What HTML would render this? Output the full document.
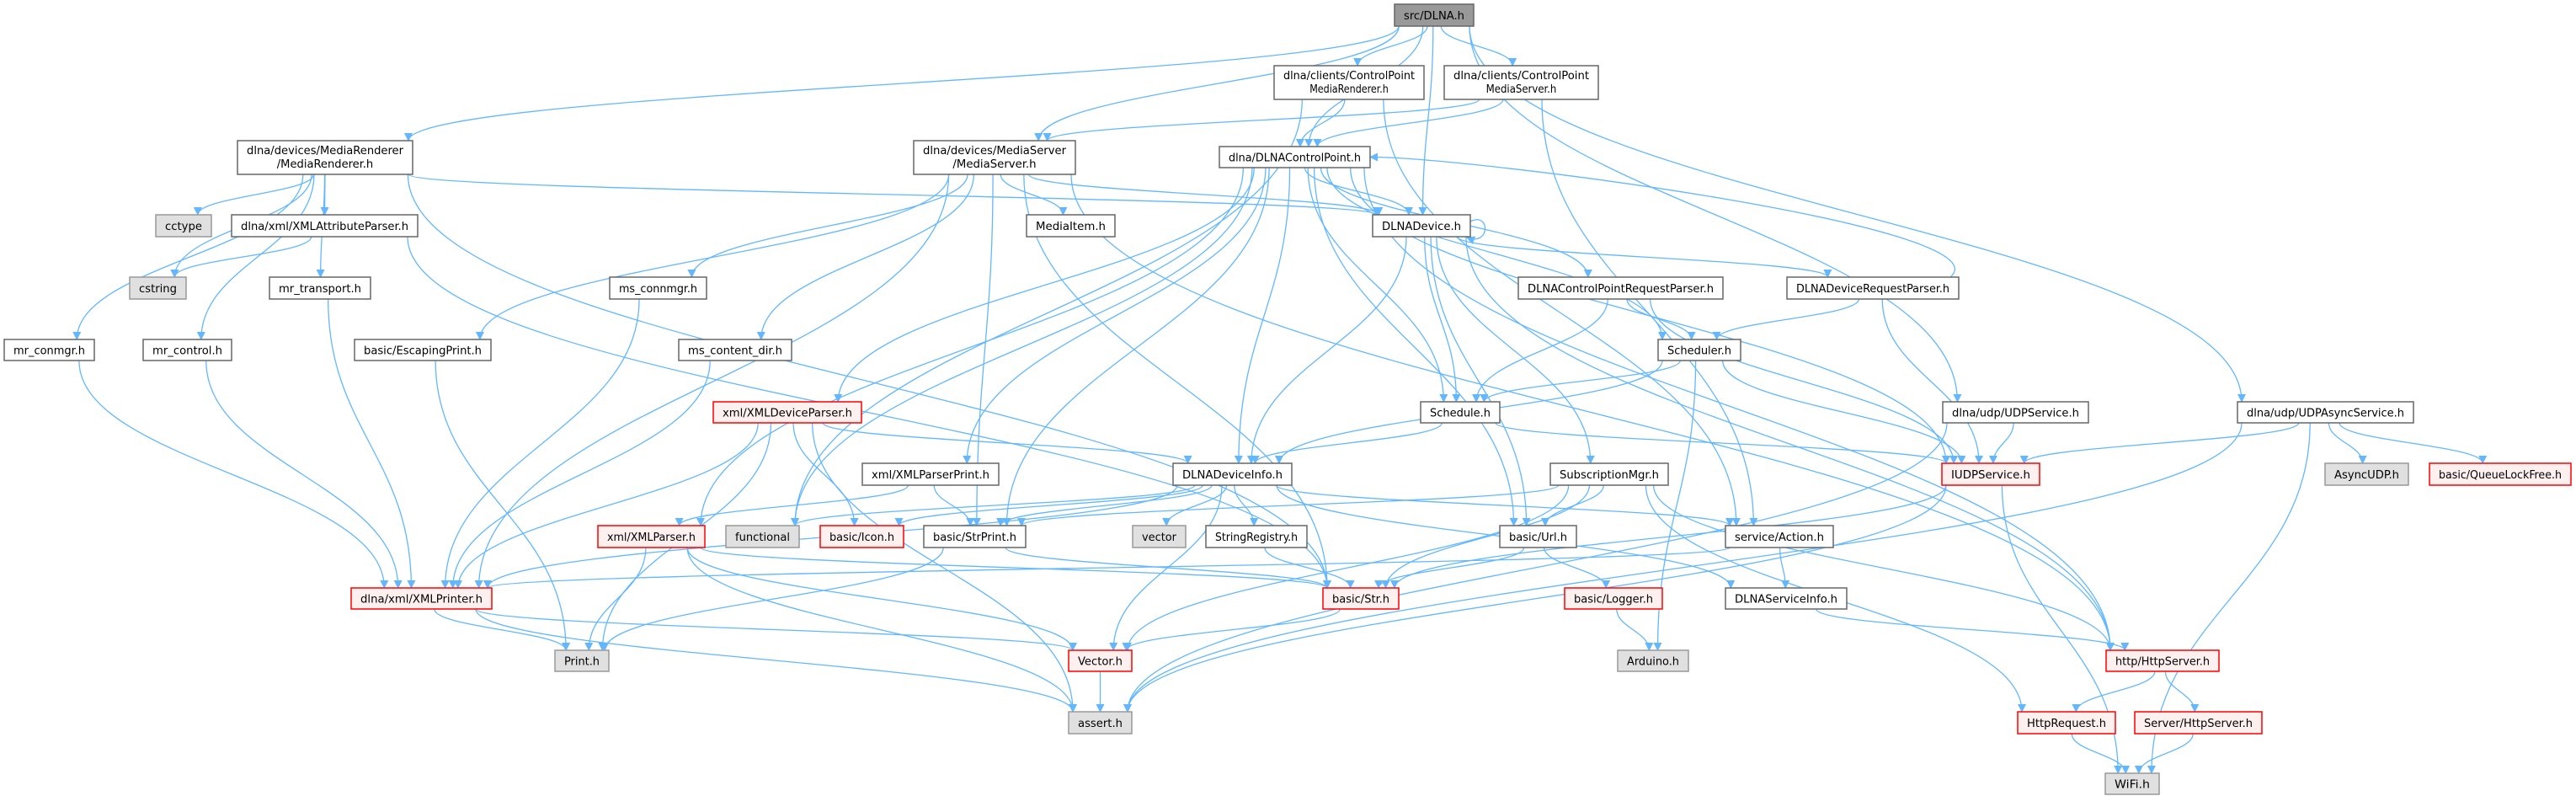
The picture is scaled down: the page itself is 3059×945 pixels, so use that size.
<!DOCTYPE html>
<html><head><meta charset="utf-8"><style>
html,body{margin:0;padding:0;background:#fff;}
svg{display:block;}
text{font-family:"DejaVu Sans Condensed","DejaVu Sans","Liberation Sans",sans-serif;font-size:13.5px;fill:#000;}
</style></head><body>
<svg id="g" xmlns="http://www.w3.org/2000/svg" width="3059" height="945" viewBox="0 0 3059 945">
<defs><marker id="a" viewBox="0 0 10 10" refX="9" refY="5" markerWidth="10" markerHeight="10" markerUnits="userSpaceOnUse" orient="auto"><path d="M0,0 L10,5 L0,10 z" fill="#63b7ff"/></marker></defs>
<g id="E" fill="none" stroke="#63b7ff" stroke-width="1.3"></g>
<g id="N"></g>
</svg>
<script>
var N={
root:[1656,5,1750,31,"src/DLNA.h","r"],
cpmr:[1513,78,1691,118,"dlna/clients/ControlPoint|MediaRenderer.h"],
cpms:[1715,78,1898,118,"dlna/clients/ControlPoint|MediaServer.h"],
mr:[282,167,490,207,"dlna/devices/MediaRenderer|/MediaRenderer.h"],
ms:[1085,167,1277,207,"dlna/devices/MediaServer|/MediaServer.h"],
cp:[1448,174,1627,199,"dlna/DLNAControlPoint.h"],
dev:[1630,255,1746,281,"DLNADevice.h"],
cctype:[185,255,251,281,"cctype","g"],
xap:[275,255,496,281,"dlna/xml/XMLAttributeParser.h"],
mitem:[1219,255,1324,281,"MediaItem.h"],
cstring:[154,329,221,355,"cstring","g"],
mrt:[320,329,440,355,"mr_transport.h"],
msc:[724,329,839,355,"ms_connmgr.h"],
cprp:[1803,329,2046,355,"DLNAControlPointRequestParser.h"],
drp:[2122,329,2326,355,"DLNADeviceRequestParser.h"],
mrc:[5,403,112,428,"mr_conmgr.h"],
mrct:[170,403,275,428,"mr_control.h"],
esc:[421,403,583,428,"basic/EscapingPrint.h"],
mscd:[806,403,940,428,"ms_content_dir.h"],
sched:[1969,403,2067,428,"Scheduler.h"],
xdp:[847,477,1023,502,"xml/XMLDeviceParser.h","e"],
sch:[1687,477,1781,502,"Schedule.h"],
udp:[2307,477,2480,502,"dlna/udp/UDPService.h"],
udpa:[2657,477,2866,502,"dlna/udp/UDPAsyncService.h"],
xpp:[1024,550,1186,576,"xml/XMLParserPrint.h"],
info:[1393,550,1534,576,"DLNADeviceInfo.h"],
sub:[1841,550,1981,576,"SubscriptionMgr.h"],
iudp:[2306,550,2422,576,"IUDPService.h","e"],
audp:[2761,550,2860,576,"AsyncUDP.h","g"],
qlf:[2885,550,3053,576,"basic/QueueLockFree.h","e"],
xp:[710,624,837,650,"xml/XMLParser.h","e"],
func:[862,624,949,650,"functional","g"],
icon:[974,624,1073,650,"basic/Icon.h","e"],
sp:[1097,624,1218,650,"basic/StrPrint.h"],
vec:[1345,624,1408,650,"vector","g"],
sreg:[1432,624,1552,650,"StringRegistry.h"],
url:[1781,624,1872,650,"basic/Url.h"],
act:[2049,624,2177,650,"service/Action.h"],
xpr:[417,698,584,723,"dlna/xml/XMLPrinter.h","e"],
str:[1571,698,1661,723,"basic/Str.h","e"],
log:[1858,698,1974,723,"basic/Logger.h","e"],
dsi:[2049,698,2193,723,"DLNAServiceInfo.h"],
print:[659,772,723,797,"Print.h","g"],
V:[1269,772,1344,797,"Vector.h","e"],
ard:[1921,772,2005,797,"Arduino.h","g"],
hs:[2501,772,2635,797,"http/HttpServer.h","e"],
assert:[1269,845,1344,871,"assert.h","g"],
hr:[2396,845,2512,871,"HttpRequest.h","e"],
shs:[2535,845,2686,871,"Server/HttpServer.h","e"],
wifi:[2500,918,2564,943,"WiFi.h","g"]
};
var E="root mr,root ms,root cpmr,root cpms,root cp,root dev,root udp,root udpa,cpmr cp,cpmr func,cpmr act,cpms ms,cpms cp,cpms act,mr cctype,mr xap,mr cstring,mr mrt,mr mrc,mr mrct,mr dev,mr str,xap cstring,xap str,mrt xpr,mrc xpr,mrct xpr,esc print,ms msc,ms mscd,ms mitem,ms dev,ms xpr,ms esc,ms sp,ms str,ms hs,msc xpr,mscd xpr,cp dev,cp cprp,cp sched,cp xdp,cp xpp,cp info,cp url,cp sp,cp xp,cp func,cp hs,cp iudp,cp sch,dev info,dev sch,dev url,dev sub,dev drp,dev hs,cprp sched,cprp sch,cprp iudp,drp sched,drp iudp,drp cp,sched sch,sched info,sched iudp,sched ard,sch info,sch iudp,xdp info,xdp icon,xdp print,xdp assert,xdp xpr,xpp xp,xpp sp,info func,info icon,info sp,info vec,info sreg,info V,info xpr,info act,info dsi,sreg str,xp print,xp assert,xp V,xp str,sp print,sp str,url str,url log,sub url,sub str,sub sp,sub hs,sub hr,sub V,act dsi,act xpr,dsi hs,udp iudp,udp assert,udpa iudp,udpa audp,udpa qlf,udpa wifi,udpa assert,iudp str,iudp assert,iudp wifi,xpr print,xpr V,xpr assert,str V,V assert,log ard,hs hr,hs shs,hr wifi,shs wifi".split(",");
var ns="http://www.w3.org/2000/svg",eg=document.getElementById("E"),ng=document.getElementById("N");
function el(t,a,p){var e=document.createElementNS(ns,t);for(var k in a)e.setAttribute(k,a[k]);p.appendChild(e);return e;}
E.forEach(function(s){var p=s.split(" "),a=N[p[0]],b=N[p[1]];if(!a||!b)return;
var ax=(a[0]+a[2])/2,bx=(b[0]+b[2])/2,d;
if(b[1]>a[3]+5){var sx=Math.max(a[0]+5,Math.min(a[2]-5,ax+(bx-ax)*0.08));
var tx=Math.max(b[0]+5,Math.min(b[2]-5,bx+(ax-bx)*0.1));var y1=a[3],y2=b[1],m=(y2-y1)*0.45;
d="M"+sx+","+y1+" C"+sx+","+(y1+m)+" "+tx+","+(y2-m)+" "+tx+","+y2;}
else if(a[1]>b[3]+5){var tx=b[2],ty=(b[1]+b[3])/2;d="M"+(a[2]-10)+","+a[1]+" C"+(a[2]+60)+","+(a[1]-60)+" "+(tx+120)+","+ty+" "+tx+","+ty;}
else{var y=(a[1]+a[3])/2,ty=(b[1]+b[3])/2,sx=bx>ax?a[2]:a[0],tx=bx>ax?b[0]:b[2];d="M"+sx+","+y+" C"+((sx+tx)/2)+","+y+" "+((sx+tx)/2)+","+ty+" "+tx+","+ty;}
el("path",{d:d,"marker-end":"url(#a)"},eg);});
el("path",{d:"M1746,263 C1770,251 1770,293 1742,282","marker-end":"url(#a)"},eg);
for(var k in N){var n=N[k],f="#fff",st="#666";
if(n[5]=="r"){f="#999";st="#666";}else if(n[5]=="g"){f="#e0e0e0";st="#999";}else if(n[5]=="e"){f="#fff0f0";st="#f00";}
el("rect",{x:n[0],y:n[1],width:n[2]-n[0],height:n[3]-n[1],fill:f,stroke:st,"stroke-width":1.5},ng);
var L=n[4].split("|"),cx=(n[0]+n[2])/2,w=n[2]-n[0]-22;
L.forEach(function(t,i){var y=L.length==1?(n[1]+n[3])/2+5:n[1]+16+i*16;
var te=el("text",{x:cx,y:y,"text-anchor":"middle"},ng);te.textContent=t;
var tl=w*t.length/Math.max.apply(null,L.map(function(s){return s.length;}));te.setAttribute("textLength",tl);te.setAttribute("lengthAdjust","spacingAndGlyphs");});}
</script>
</body></html>
